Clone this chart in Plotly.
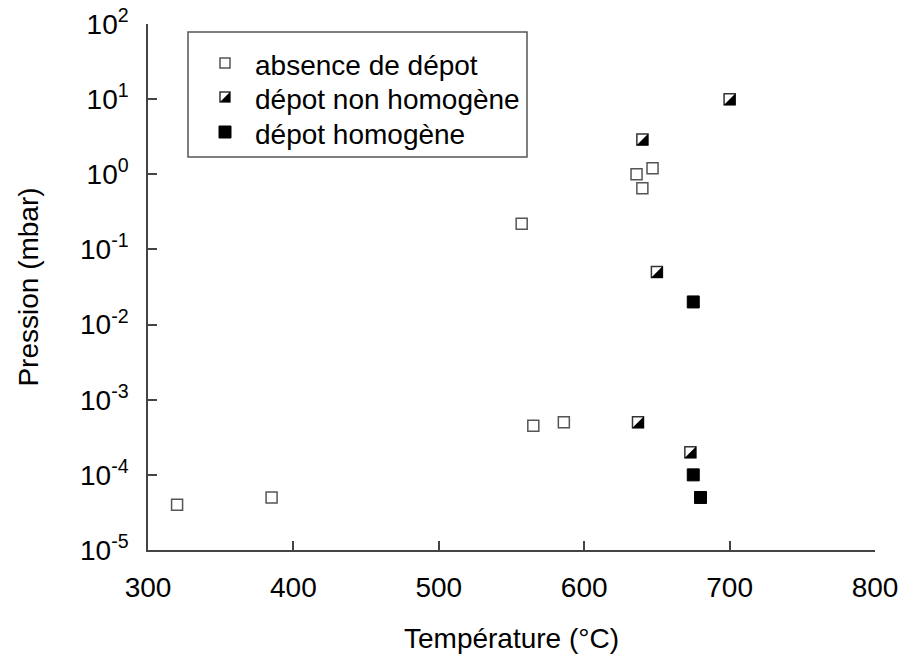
import plotly.graph_objects as go

# ---------------- data ----------------
absence_T = [320, 385, 557, 565, 586, 636, 647, 640]
absence_P = [4e-5, 5e-5, 0.22, 4.5e-4, 5e-4, 1.0, 1.2, 0.65]

nonhomog_T = [700, 640, 650, 637, 673]
nonhomog_P = [10, 2.9, 0.05, 5e-4, 2e-4]

homog_T = [675, 675, 680]
homog_P = [0.02, 1e-4, 5e-5]

series_names = ["absence de dépot", "dépot non homogène", "dépot homogène"]

x_ticks = [300, 400, 500, 600, 700, 800]
y_exponents = [-5, -4, -3, -2, -1, 0, 1, 2]
y_ticks = [10.0 ** e for e in y_exponents]
y_ticktext = ["10<sup>%d</sup>" % e for e in y_exponents]

# ---------------- style ----------------
FONT = "Liberation Sans, Arial, Helvetica, sans-serif"
FS = 28
AXC = "#444444"
W, H = 903, 657
ML, MR, MT, MB = 148, 28, 24, 107
PW, PH = W - ML - MR, H - MT - MB


def px2paper(px, py):
    return (px - ML) / PW, (H - MB - py) / PH


fig = go.Figure()

open_marker = dict(symbol="square", size=11, color="white",
                   line=dict(color="#555555", width=1.5))
half_marker = dict(symbol="square", size=11, color="white",
                   line=dict(color="#333333", width=1.5))
full_marker = dict(symbol="square", size=12, color="black",
                   line=dict(color="black", width=1))

fig.add_trace(go.Scatter(x=absence_T, y=absence_P, mode="markers",
                         name=series_names[0], marker=open_marker,
                         showlegend=False))
fig.add_trace(go.Scatter(x=nonhomog_T, y=nonhomog_P, mode="markers",
                         name=series_names[1], marker=half_marker,
                         showlegend=False))
fig.add_trace(go.Scatter(x=homog_T, y=homog_P, mode="markers",
                         name=series_names[2], marker=full_marker,
                         showlegend=False))

TRI = "M 6,-6 L 6,6 L -6,-6 Z"
shapes = []
# black lower-right half of the "non homogène" markers
for t, p in zip(nonhomog_T, nonhomog_P):
    shapes.append(dict(type="path", xref="x", yref="y",
                       xsizemode="pixel", ysizemode="pixel",
                       xanchor=t, yanchor=p, path=TRI,
                       fillcolor="black", line=dict(width=0)))

# ---------------- manual legend ----------------
bx0, by1 = px2paper(188, 32)
bx1, by0 = px2paper(527, 157)
shapes.append(dict(type="rect", xref="paper", yref="paper",
                   x0=bx0, x1=bx1, y0=by0, y1=by1,
                   line=dict(color="#555555", width=1.5),
                   fillcolor="white", layer="above"))
icon_x_px = 225
text_x_px = 254
rows_py = [63, 97, 132]
annotations = []
for i, (name, py) in enumerate(zip(series_names, rows_py)):
    ix, iy = px2paper(icon_x_px, py)
    if i == 0:
        shapes.append(dict(type="rect", xref="paper", yref="paper",
                           xsizemode="pixel", ysizemode="pixel",
                           xanchor=ix, yanchor=iy, x0=-5, x1=5, y0=-5, y1=5,
                           fillcolor="white",
                           line=dict(color="#555555", width=1.5)))
    elif i == 1:
        shapes.append(dict(type="rect", xref="paper", yref="paper",
                           xsizemode="pixel", ysizemode="pixel",
                           xanchor=ix, yanchor=iy, x0=-5, x1=5, y0=-5, y1=5,
                           fillcolor="white",
                           line=dict(color="#333333", width=1.5)))
        shapes.append(dict(type="path", xref="paper", yref="paper",
                           xsizemode="pixel", ysizemode="pixel",
                           xanchor=ix, yanchor=iy,
                           path="M 5,-5 L 5,5 L -5,-5 Z",
                           fillcolor="black", line=dict(width=0)))
    else:
        shapes.append(dict(type="rect", xref="paper", yref="paper",
                           xsizemode="pixel", ysizemode="pixel",
                           xanchor=ix, yanchor=iy, x0=-6, x1=6, y0=-6, y1=6,
                           fillcolor="black", line=dict(color="black", width=1)))
    tx, ty = px2paper(text_x_px, py)
    annotations.append(dict(xref="paper", yref="paper", x=tx, y=ty - 0.004,
                            xanchor="left", yanchor="middle", text=name,
                            showarrow=False, borderpad=0,
                            font=dict(family=FONT, size=28, color="black")))

fig.update_layout(
    width=W, height=H,
    margin=dict(l=ML, r=MR, t=MT, b=MB, pad=0, autoexpand=False),
    paper_bgcolor="white", plot_bgcolor="white",
    font=dict(family=FONT, size=FS, color="black"),
    shapes=shapes, annotations=annotations,
    showlegend=False,
)

fig.update_xaxes(
    range=[300, 800], tickvals=x_ticks, automargin=False,
    ticks="inside", ticklen=9, tickwidth=1.5, tickcolor=AXC,
    showline=True, linecolor=AXC, linewidth=1.5,
    showgrid=False, zeroline=False,
    ticklabelstandoff=12,
    tickfont=dict(family=FONT, size=FS, color="black"),
    title=dict(text="Température (°C)", standoff=26,
               font=dict(family=FONT, size=FS, color="black")),
)
fig.update_yaxes(
    type="log", range=[-5, 2], tickvals=y_ticks, ticktext=y_ticktext,
    automargin=False,
    ticks="inside", ticklen=9, tickwidth=1.5, tickcolor=AXC,
    showline=True, linecolor=AXC, linewidth=1.5,
    showgrid=False, zeroline=False,
    ticklabelstandoff=12,
    tickfont=dict(family=FONT, size=FS, color="black"),
    title=dict(text="Pression (mbar)", standoff=33,
               font=dict(family=FONT, size=FS, color="black")),
)

fig.write_html("out.html",
               config={"displayModeBar": False},
               post_script="document.body.style.margin='0';"
                           "document.body.style.overflow='hidden';")
